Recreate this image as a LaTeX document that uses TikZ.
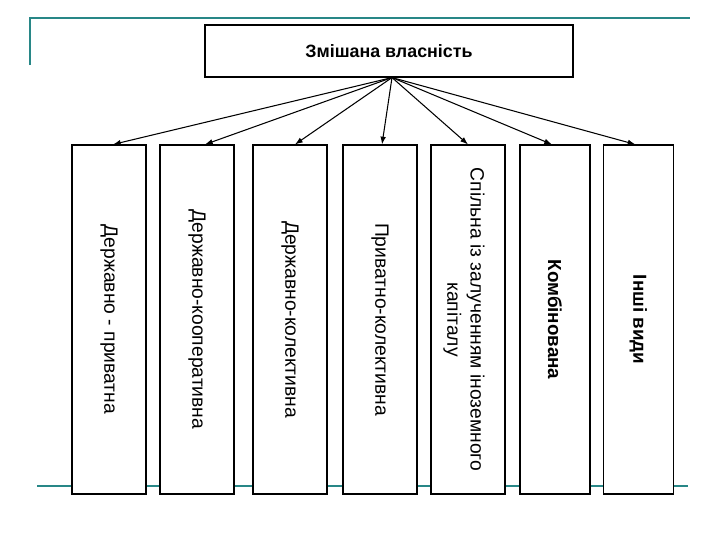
\documentclass[tikz,border=0pt]{standalone}
\usepackage{fontspec}
\setmainfont{Liberation Sans}
\usetikzlibrary{arrows.meta}
\definecolor{slideline}{RGB}{40,135,135}

\begin{document}
\begin{tikzpicture}[
  slide/.style={draw=slideline, line width=1.4pt},
  head/.style={draw, fill=white, line width=0.8pt, minimum width=9.2cm, minimum height=1.3cm, font=\fontsize{12.7}{15}\selectfont\bfseries},
  kind/.style={draw, fill=white, line width=0.8pt, minimum width=1.85cm, minimum height=8.725cm, inner sep=0pt},
  kindtext/.style={rotate=-90, align=center, inner sep=0pt, font=\fontsize{13.7}{16.5}\selectfont},
  boldtext/.style={kindtext, font=\fontsize{13.4}{16}\selectfont\bfseries},
  link/.style={-{Latex[length=5.5pt,width=4pt]}, line width=0.75pt}
]
\useasboundingbox (0,0) rectangle (18,-13.5);
% slide decoration
\draw[slide] (0.75,-1.625) -- (0.75,-0.45) -- (17.25,-0.45);
\draw[slide] (0.925,-12.15) -- (17.2,-12.15);
% top box
\node[head] (mixed) at (9.725,-1.275) {Змішана власність};
\coordinate (hub) at ([xshift=0.075cm]mixed.south);
% kinds of ownership
\node[kind] (b1) at (2.725,-7.9875) {};
\node[kindtext] (t1) at (b1) {Державно - приватна};
\node[kind] (b2) at (4.925,-7.9875) {};
\node[kindtext] (t2) at (b2) {Державно-кооперативна};
\node[kind] (b3) at (7.25,-7.9875) {};
\node[kindtext] (t3) at (b3) {Державно-колективна};
\node[kind] (b4) at (9.5,-7.9875) {};
\node[kindtext] (t4) at (b4) {Приватно-колективна};
\node[kind] (b5) at (11.7,-7.9875) {};
\node[kindtext] (t5) at ([xshift=-0.1cm]b5.center) {Спільна із залученням іноземного\\капіталу};
\node[kind, minimum width=1.75cm] (b6) at (13.875,-7.9875) {};
\node[boldtext] (t6) at (b6) {Комбінована};
\node[kind, minimum width=1.75cm] (b7) at (15.96,-7.9875) {};
\node[boldtext] (t7) at (b7) {Інші види};
% arrows
\draw[link] (hub) -- ([xshift=0.1cm]b1.north);
\draw[link] (hub) -- ([xshift=0.2cm]b2.north);
\draw[link] (hub) -- ([xshift=0.125cm]b3.north);
\draw[link] (hub) -- ([xshift=0.05cm]b4.north);
\draw[link] (hub) -- (b5.north);
\draw[link] (hub) -- ([xshift=-0.075cm]b6.north);
\draw[link] (hub) -- ([xshift=-0.075cm]b7.north);
\end{tikzpicture}
\end{document}
